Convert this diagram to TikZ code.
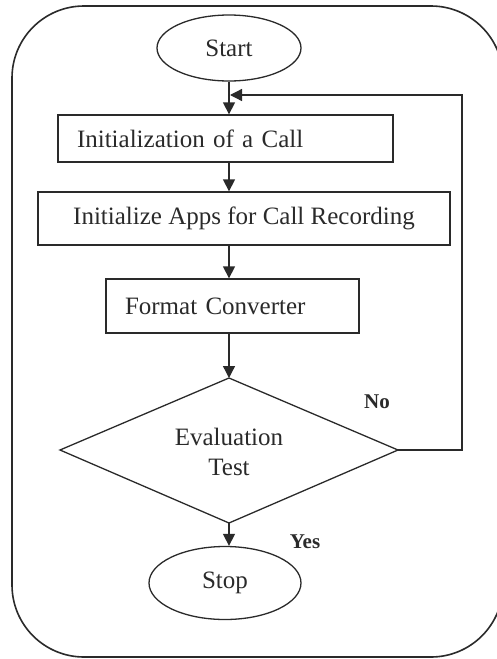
\documentclass[tikz,border=0pt]{standalone}
\usepackage{fontspec}
\setmainfont{Liberation Serif}
\usetikzlibrary{arrows.meta,shapes.geometric}
\definecolor{ink}{HTML}{2A2A2A}
\begin{document}
\begin{tikzpicture}[x=1pt,y=-1pt,
  line width=1.3pt, draw=ink, text=ink,
  arr/.style={-{Triangle[length=12pt,width=12pt]}},
  term/.style={draw,ellipse,inner sep=0pt,font=\fontsize{25}{28}\selectfont},
  procbox/.style={draw,rectangle,inner sep=0pt,font=\fontsize{25}{28}\selectfont},
  lbl/.style={font=\fontsize{21}{24}\selectfont\bfseries}]
\useasboundingbox (0,0) rectangle (496,659);
% outer frame (runs past the right edge of the page)
\draw[line width=1.6pt,rounded corners=72pt] (12,6) rectangle (503,657);

% terminals and process boxes
\node[term,minimum width=144pt,minimum height=66pt] (start) at (229,48) {Start};
\node[procbox,minimum width=335pt,minimum height=47pt,text width=297pt,align=left]
  (box1) at (225.5,138.5) {Initialization of a Call};
\node[procbox,minimum width=412pt,minimum height=53pt,align=center]
  (box2) at (244,218.5) {Initialize Apps for Call Recording};
\node[procbox,minimum width=253pt,minimum height=54pt,text width=215pt,align=left]
  (box3) at (232.5,306) {Format Converter};

% decision
\coordinate (dt) at (229,378);
\coordinate (dl) at (60,450);
\coordinate (db) at (229,523);
\coordinate (dr) at (398,450);
\draw (dt) -- (dr) -- (db) -- (dl) -- cycle;
\node[font=\fontsize{25}{30}\selectfont,align=center] (eval) at (229,452) {Evaluation\\Test};

\node[term,minimum width=152pt,minimum height=73pt] (stop) at (225,583) {Stop};

% flow
\draw[arr] (start.south) -- (start.south |- box1.north);
\draw[arr] (box1.south -| start) -- (box2.north -| start);
\draw[arr] (box2.south -| start) -- (box3.north -| start);
\draw[arr] (box3.south -| start) -- (dt);
\draw[arr] (db) -- (db |- stop.north);

% loop back on failure
\coordinate (fbc) at (462,95);
\coordinate (fbe) at (230,95);
\draw[arr] (dr) -- (dr -| fbc) -- (fbc) -- (fbe);

% branch labels
\node[lbl] (no) at (377,402) {No};
\node[lbl] (yes) at (305,542) {Yes};
\end{tikzpicture}
\end{document}
